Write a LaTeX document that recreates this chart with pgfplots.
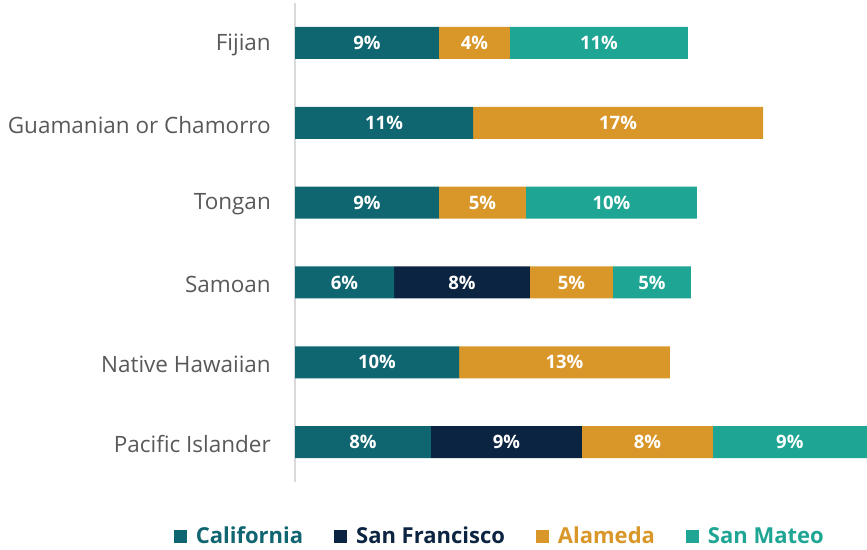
\documentclass[border=0pt]{standalone}
\usepackage{fontspec}
\setmainfont{Open Sans}
\usepackage{pgfplots}
\pgfplotsset{compat=1.18}
\definecolor{cal}{HTML}{0F6570}
\definecolor{sf}{HTML}{0B2441}
\definecolor{ala}{HTML}{D99729}
\definecolor{smt}{HTML}{1EA594}
\definecolor{lbl}{HTML}{595959}
\begin{document}
\begin{tikzpicture}
\path[use as bounding box] (0,0) rectangle (867bp,550bp);
\begin{axis}[
  at={(295bp,68bp)}, anchor=south west,
  scale only axis,
  width=572bp, height=479bp,
  xbar stacked,
  bar width=32bp,
  xmin=0, xmax=34.25,
  ymin=-0.5, ymax=5.5,
  axis x line=none,
  axis y line*=left,
  y axis line style={draw=black!15, line width=2bp},
  ytick={0,1,2,3,4,5},
  yticklabels={Pacific Islander, Native Hawaiian, Samoan, Tongan, Guamanian or Chamorro, Fijian},
  major tick length=0pt,
  yticklabel style={font=\fontsize{22.5bp}{26bp}\selectfont, text=lbl, inner sep=0pt, xshift=-24bp, yshift=-2bp},
  point meta=explicit symbolic,
  nodes near coords,
  every node near coord/.append style={font=\bfseries\fontsize{18.5bp}{21bp}\selectfont, text=white},
  legend columns=4,
  legend style={at={(0.358,-0.113)}, anchor=center, draw=none, fill=none,
    font=\bfseries\fontsize{22bp}{26bp}\selectfont,
    /tikz/every even column/.append style={column sep=29bp},
    /tikz/every odd column/.append style={column sep=7bp}},
  legend image code/.code={\fill[#1] (0bp,-6.5bp) rectangle (13bp,6.5bp);},
]
\addplot[fill=cal, draw=none] coordinates {
  (8.14,0) [8\%] (9.82,1) [10\%] (5.93,2) [6\%] (8.62,3) [9\%] (10.66,4) [11\%] (8.62,5) [9\%]};
\addlegendentry{\textcolor{cal}{California}}
\addplot[fill=sf, draw=none] coordinates {
  (9.04,0) [9\%] (0,1) [] (8.14,2) [8\%] (0,3) [] (0,4) [] (0,5) []};
\addlegendentry{\textcolor{sf}{San Francisco}}
\addplot[fill=ala, draw=none] coordinates {
  (7.84,0) [8\%] (12.63,1) [13\%] (4.97,2) [5\%] (5.21,3) [5\%] (17.37,4) [17\%] (4.25,5) [4\%]};
\addlegendentry{\textcolor{ala}{Alameda}}
\addplot[fill=smt, draw=none] coordinates {
  (9.22,0) [9\%] (0,1) [] (4.67,2) [5\%] (10.24,3) [10\%] (0,4) [] (10.66,5) [11\%]};
\addlegendentry{\textcolor{smt}{San Mateo}}
\end{axis}
\end{tikzpicture}
\end{document}
